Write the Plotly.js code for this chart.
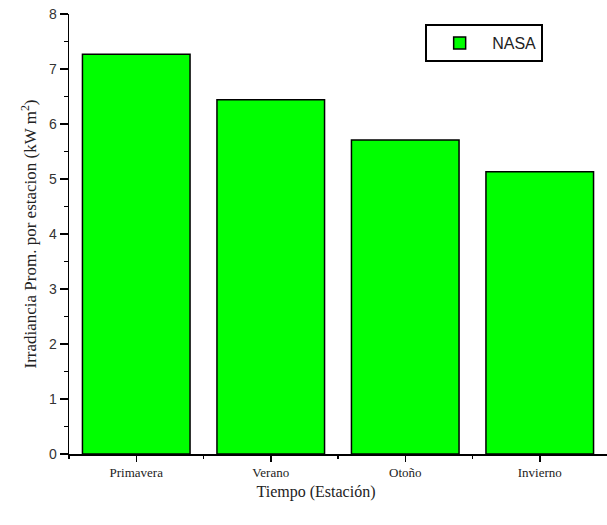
<!DOCTYPE html>
<html>
<head>
<meta charset="utf-8">
<script src="https://cdn.plot.ly/plotly-3.0.1.min.js"></script>
<style>html,body{margin:0;padding:0;background:#fff;}#chart{width:607px;height:525px;}</style>
</head>
<body>
<div id="chart"></div>
<script>
const categories = ["Primavera", "Verano", "Otoño", "Invierno"];
const nasaValues = [7.27, 6.44, 5.71, 5.13];
const seriesName = "NASA";
const yTickValues = [0, 1, 2, 3, 4, 5, 6, 7, 8];

const xIdx = categories.map((c, i) => i);

const trace = {
  type: "bar",
  x: xIdx,
  y: nasaValues,
  name: seriesName,
  marker: { color: "#00ff00", line: { color: "#000000", width: 1.5 } },
  hoverinfo: "y"
};

const layout = {
  width: 607,
  height: 525,
  margin: { l: 69, r: 0, t: 14, b: 71 },
  paper_bgcolor: "#ffffff",
  plot_bgcolor: "#ffffff",
  bargap: 0.2,
  showlegend: true,
  legend: {
    x: 0.662, y: 0.977, xanchor: "left", yanchor: "top",
    bordercolor: "#000000", borderwidth: 2, bgcolor: "#ffffff",
    itemwidth: 55,
    font: { family: "Liberation Sans, Arial, sans-serif", size: 16, color: "#222" }
  },
  xaxis: {
    range: [-0.5, 3.5],
    tickmode: "array",
    tickvals: xIdx,
    ticktext: categories,
    ticks: "outside", ticklen: 6, tickwidth: 1.5, tickcolor: "#000",
    minor: { tickmode: "array", tickvals: [-0.5, 0.5, 1.5, 2.5], ticks: "outside", ticklen: 3, tickwidth: 1.5, tickcolor: "#000" },
    showline: true, linecolor: "#000", linewidth: 1.5,
    showgrid: false, zeroline: false,
    tickfont: { family: "Liberation Serif, Times New Roman, serif", size: 13, color: "#222" },
    title: { text: "Tiempo (Estación)&nbsp;&nbsp;&nbsp;&nbsp;&nbsp;&nbsp;&nbsp;&nbsp;&nbsp;&nbsp;&nbsp;", font: { family: "Liberation Serif, Times New Roman, serif", size: 16, color: "#222" }, standoff: 6 }
  },
  yaxis: {
    range: [0, 8],
    tickmode: "array",
    tickvals: yTickValues,
    ticks: "outside", ticklen: 8, tickwidth: 1.5, tickcolor: "#000",
    minor: { dtick: 0.5, ticks: "outside", ticklen: 4, tickwidth: 1.5, tickcolor: "#000" },
    showline: true, linecolor: "#000", linewidth: 1.5,
    showgrid: false, zeroline: false,
    tickfont: { family: "Liberation Sans, Arial, sans-serif", size: 14, color: "#333" },
    title: { text: "Irradiancia Prom. por estacion (kW m<sup>2</sup>)", font: { family: "Liberation Serif, Times New Roman, serif", size: 17, color: "#222" }, standoff: 8 }
  }
};

Plotly.newPlot("chart", [trace], layout, { displayModeBar: false, staticPlot: true });
</script>
</body>
</html>
